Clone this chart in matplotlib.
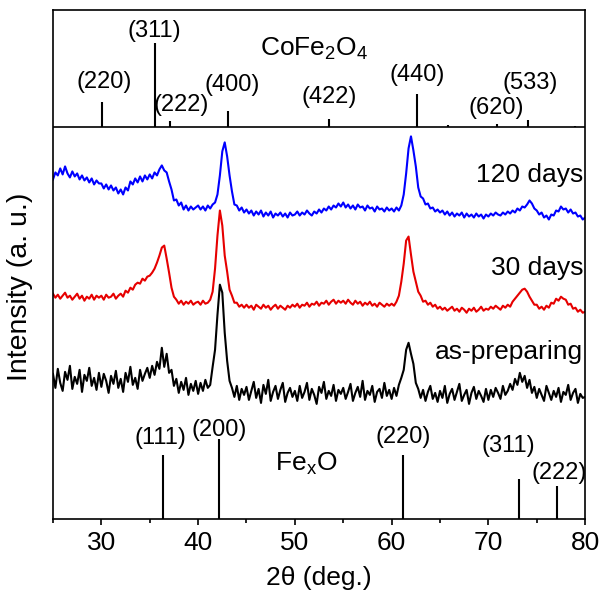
# -*- coding: utf-8 -*-
"""
XRD patterns of the Fe_xO / CoFe2O4 sample after ageing.
"""
import numpy as np
import matplotlib
matplotlib.use('Agg')
import matplotlib.pyplot as plt
from matplotlib.ticker import MultipleLocator

plt.rcParams['font.family'] = ['Liberation Sans', 'DejaVu Sans']
plt.rcParams['mathtext.fontset'] = 'custom'
plt.rcParams['mathtext.rm'] = 'Liberation Sans'

# 2theta grid of the scans: 25 .. 80 deg, step 0.25 deg
two_theta = np.linspace(25, 80, 221)

# intensities (a. u.), one row = 5 deg
i_120d = [
    339, 346, 343, 350, 344, 352, 345, 341, 347, 342, 345, 339, 343, 338, 341, 336, 340, 334, 338, 335,
    335, 330, 334, 329, 333, 328, 331, 325, 329, 324, 331, 328, 337, 334, 340, 336, 342, 337, 343, 339,
    344, 340, 346, 343, 349, 353, 348, 346, 337, 329, 318, 319, 313, 316, 309, 313, 308, 312, 309, 311,
    313, 309, 312, 308, 313, 310, 314, 316, 324, 343, 367, 376, 362, 343, 327, 314, 313, 308, 311, 306,
    309, 305, 308, 303, 307, 304, 308, 302, 306, 303, 307, 301, 305, 303, 306, 302, 305, 301, 306, 303,
    304, 307, 303, 306, 304, 308, 305, 303, 307, 305, 309, 306, 310, 308, 312, 309, 313, 311, 315, 312,
    316, 311, 314, 310, 313, 309, 314, 311, 312, 308, 313, 310, 311, 307, 312, 309, 310, 307, 311, 308,
    310, 307, 311, 308, 313, 324, 345, 370, 382, 368, 352, 331, 322, 320, 314, 315, 310, 311, 307, 309,
    306, 308, 304, 307, 303, 306, 302, 305, 303, 306, 301, 305, 302, 304, 301, 305, 302, 304, 300, 304,
    302, 305, 303, 306, 304, 303, 306, 304, 307, 305, 308, 306, 310, 308, 312, 311, 314, 318, 315, 310,
    308, 304, 306, 301, 303, 299, 304, 303, 308, 307, 312, 309, 310, 306, 309, 305, 306, 302, 303, 299,
    301]

i_30d = [
    225, 221, 224, 220, 223, 226, 221, 223, 219, 222, 225, 220, 223, 218, 222, 220, 224, 219, 223, 221,
    223, 219, 224, 221, 222, 225, 220, 223, 225, 222, 228, 226, 231, 229, 234, 236, 235, 240, 238, 242,
    243, 246, 250, 256, 263, 271, 273, 260, 246, 231, 222, 219, 215, 218, 214, 217, 215, 218, 214, 216,
    217, 214, 218, 215, 216, 219, 227, 250, 283, 308, 293, 263, 247, 229, 223, 216, 216, 212, 214, 211,
    214, 211, 213, 209, 214, 212, 210, 214, 211, 213, 209, 212, 214, 210, 213, 211, 209, 213, 211, 214,
    212, 215, 211, 214, 213, 216, 212, 215, 214, 217, 213, 216, 215, 218, 214, 217, 219, 215, 218, 216,
    218, 215, 219, 216, 214, 218, 215, 217, 213, 216, 214, 217, 213, 215, 212, 216, 214, 212, 215, 213,
    215, 213, 217, 223, 237, 255, 278, 282, 264, 247, 237, 227, 223, 217, 218, 214, 216, 212, 214, 210,
    212, 209, 211, 208, 210, 212, 208, 210, 207, 211, 209, 206, 210, 208, 211, 207, 209, 212, 208, 210,
    209, 212, 210, 213, 211, 209, 213, 211, 214, 212, 217, 220, 223, 226, 229, 230, 227, 222, 218, 214,
    214, 210, 212, 209, 213, 211, 216, 215, 220, 218, 222, 220, 219, 214, 215, 210, 211, 207, 209, 206,
    207]

i_asprep = [
    145, 131, 150, 136, 128, 147, 139, 153, 130, 142, 135, 149, 127, 144, 138, 151, 133, 141, 129, 146,
    132, 145, 138, 126, 143, 135, 148, 131, 140, 127, 146, 137, 152, 134, 141, 130, 149, 138, 145, 151,
    141, 153, 144, 157, 150, 171, 152, 165, 146, 149, 133, 140, 126, 137, 129, 141, 124, 135, 128, 138,
    125, 136, 128, 139, 131, 134, 152, 169, 204, 234, 226, 186, 158, 138, 131, 122, 133, 119, 130, 124,
    132, 119, 128, 137, 121, 130, 116, 134, 125, 139, 118, 127, 133, 120, 129, 136, 117, 126, 131, 122,
    128, 118, 133, 121, 127, 136, 119, 130, 124, 115, 132, 126, 137, 120, 128, 123, 134, 118, 129, 125,
    131, 120, 127, 135, 118, 126, 132, 122, 138, 119, 128, 124, 133, 117, 127, 130, 121, 136, 123, 129,
    120, 131, 123, 134, 141, 149, 169, 176, 165, 155, 136, 130, 121, 129, 118, 127, 133, 120, 126, 117,
    128, 121, 133, 116, 125, 130, 119, 127, 135, 118, 124, 129, 115, 126, 132, 120, 128, 123, 117, 130,
    119, 129, 122, 131, 126, 120, 133, 124, 128, 135, 129, 140, 134, 146, 137, 143, 131, 139, 126, 132,
    121, 130, 124, 118, 133, 126, 119, 128, 122, 131, 117, 127, 124, 134, 119, 126, 130, 116, 125, 121,
    122]

scan_labels = ['120 days', '30 days', 'as-preparing']
scan_colors = ['#0000ff', '#e60000', 'black']
label_y = [343, 251, 167]

# CoFe2O4 reference pattern (top panel)
cfo_pos = [30.1, 35.5, 37.1, 43.1, 53.5, 62.6, 65.8, 70.9, 74.1, 79.0]
cfo_int = [25, 84, 6, 16, 8, 33, 2, 3.5, 7, 1.5]
cfo_hkl = ['(220)', '(311)', '(222)', '(400)', '(422)', '(440)', '(620)', '(533)']
cfo_hkl_x = [30.3, 35.5, 38.3, 43.5, 53.5, 62.6, 70.8, 74.3]
cfo_hkl_y = [436, 487, 413, 433, 421, 443, 410, 435]

# Fe_xO reference pattern (bottom)
fexo_pos = [36.4, 42.2, 61.2, 73.2, 77.1]
fexo_int = [64, 80, 64, 40, 33]
fexo_hkl = ['(111)', '(200)', '(220)', '(311)', '(222)']
fexo_hkl_x = [36.1, 42.2, 61.2, 72.1, 77.3]
fexo_hkl_y = [81, 89, 82, 73, 46]

panel_base = 391


def main():
    fig = plt.figure(figsize=(6.02, 5.94), dpi=100)
    ax = fig.add_axes([0.088, 0.126, 0.884, 0.857])

    for y, c in zip([i_120d, i_30d, i_asprep], scan_colors):
        ax.plot(two_theta, y, color=c, lw=1.5)
    for t, y in zip(scan_labels, label_y):
        ax.text(79.8, y, t, ha='right', va='center', fontsize=19)

    # top panel with CoFe2O4 lines
    ax.axhline(panel_base, color='black', lw=1.2)
    ax.vlines(cfo_pos, panel_base, panel_base + np.array(cfo_int),
              color='black', lw=1.5)
    for t, x, y in zip(cfo_hkl, cfo_hkl_x, cfo_hkl_y):
        ax.text(x, y, t, ha='center', va='center', fontsize=17)
    ax.text(52.0, 469, r'CoFe$_\mathregular{2}$O$_\mathregular{4}$',
            ha='center', va='center', fontsize=19)

    # Fe_xO lines
    ax.vlines(fexo_pos, 0, fexo_int, color='black', lw=1.5)
    for t, x, y in zip(fexo_hkl, fexo_hkl_x, fexo_hkl_y):
        ax.text(x, y, t, ha='center', va='center', fontsize=17)
    ax.text(51.2, 55, r'Fe$_\mathregular{x}$O', ha='center', va='center',
            fontsize=19)

    ax.set_xlim(25, 80)
    ax.set_ylim(0, 508)
    ax.xaxis.set_major_locator(MultipleLocator(10))
    ax.xaxis.set_minor_locator(MultipleLocator(5))
    ax.set_yticks([])
    ax.tick_params(axis='x', which='major', direction='out', length=4.5,
                   width=1.2, labelsize=19, pad=4)
    ax.tick_params(axis='x', which='minor', direction='out', length=3,
                   width=1.2)
    for s in ax.spines.values():
        s.set_linewidth(1.2)
    ax.set_xlabel('2θ (deg.)', fontsize=19, labelpad=8)
    ax.set_ylabel('Intensity (a. u.)', fontsize=20.5)
    ax.yaxis.set_label_coords(-0.037, 0.456)

    fig.savefig('out.png', dpi=100)


if __name__ == "__main__":
    main()
